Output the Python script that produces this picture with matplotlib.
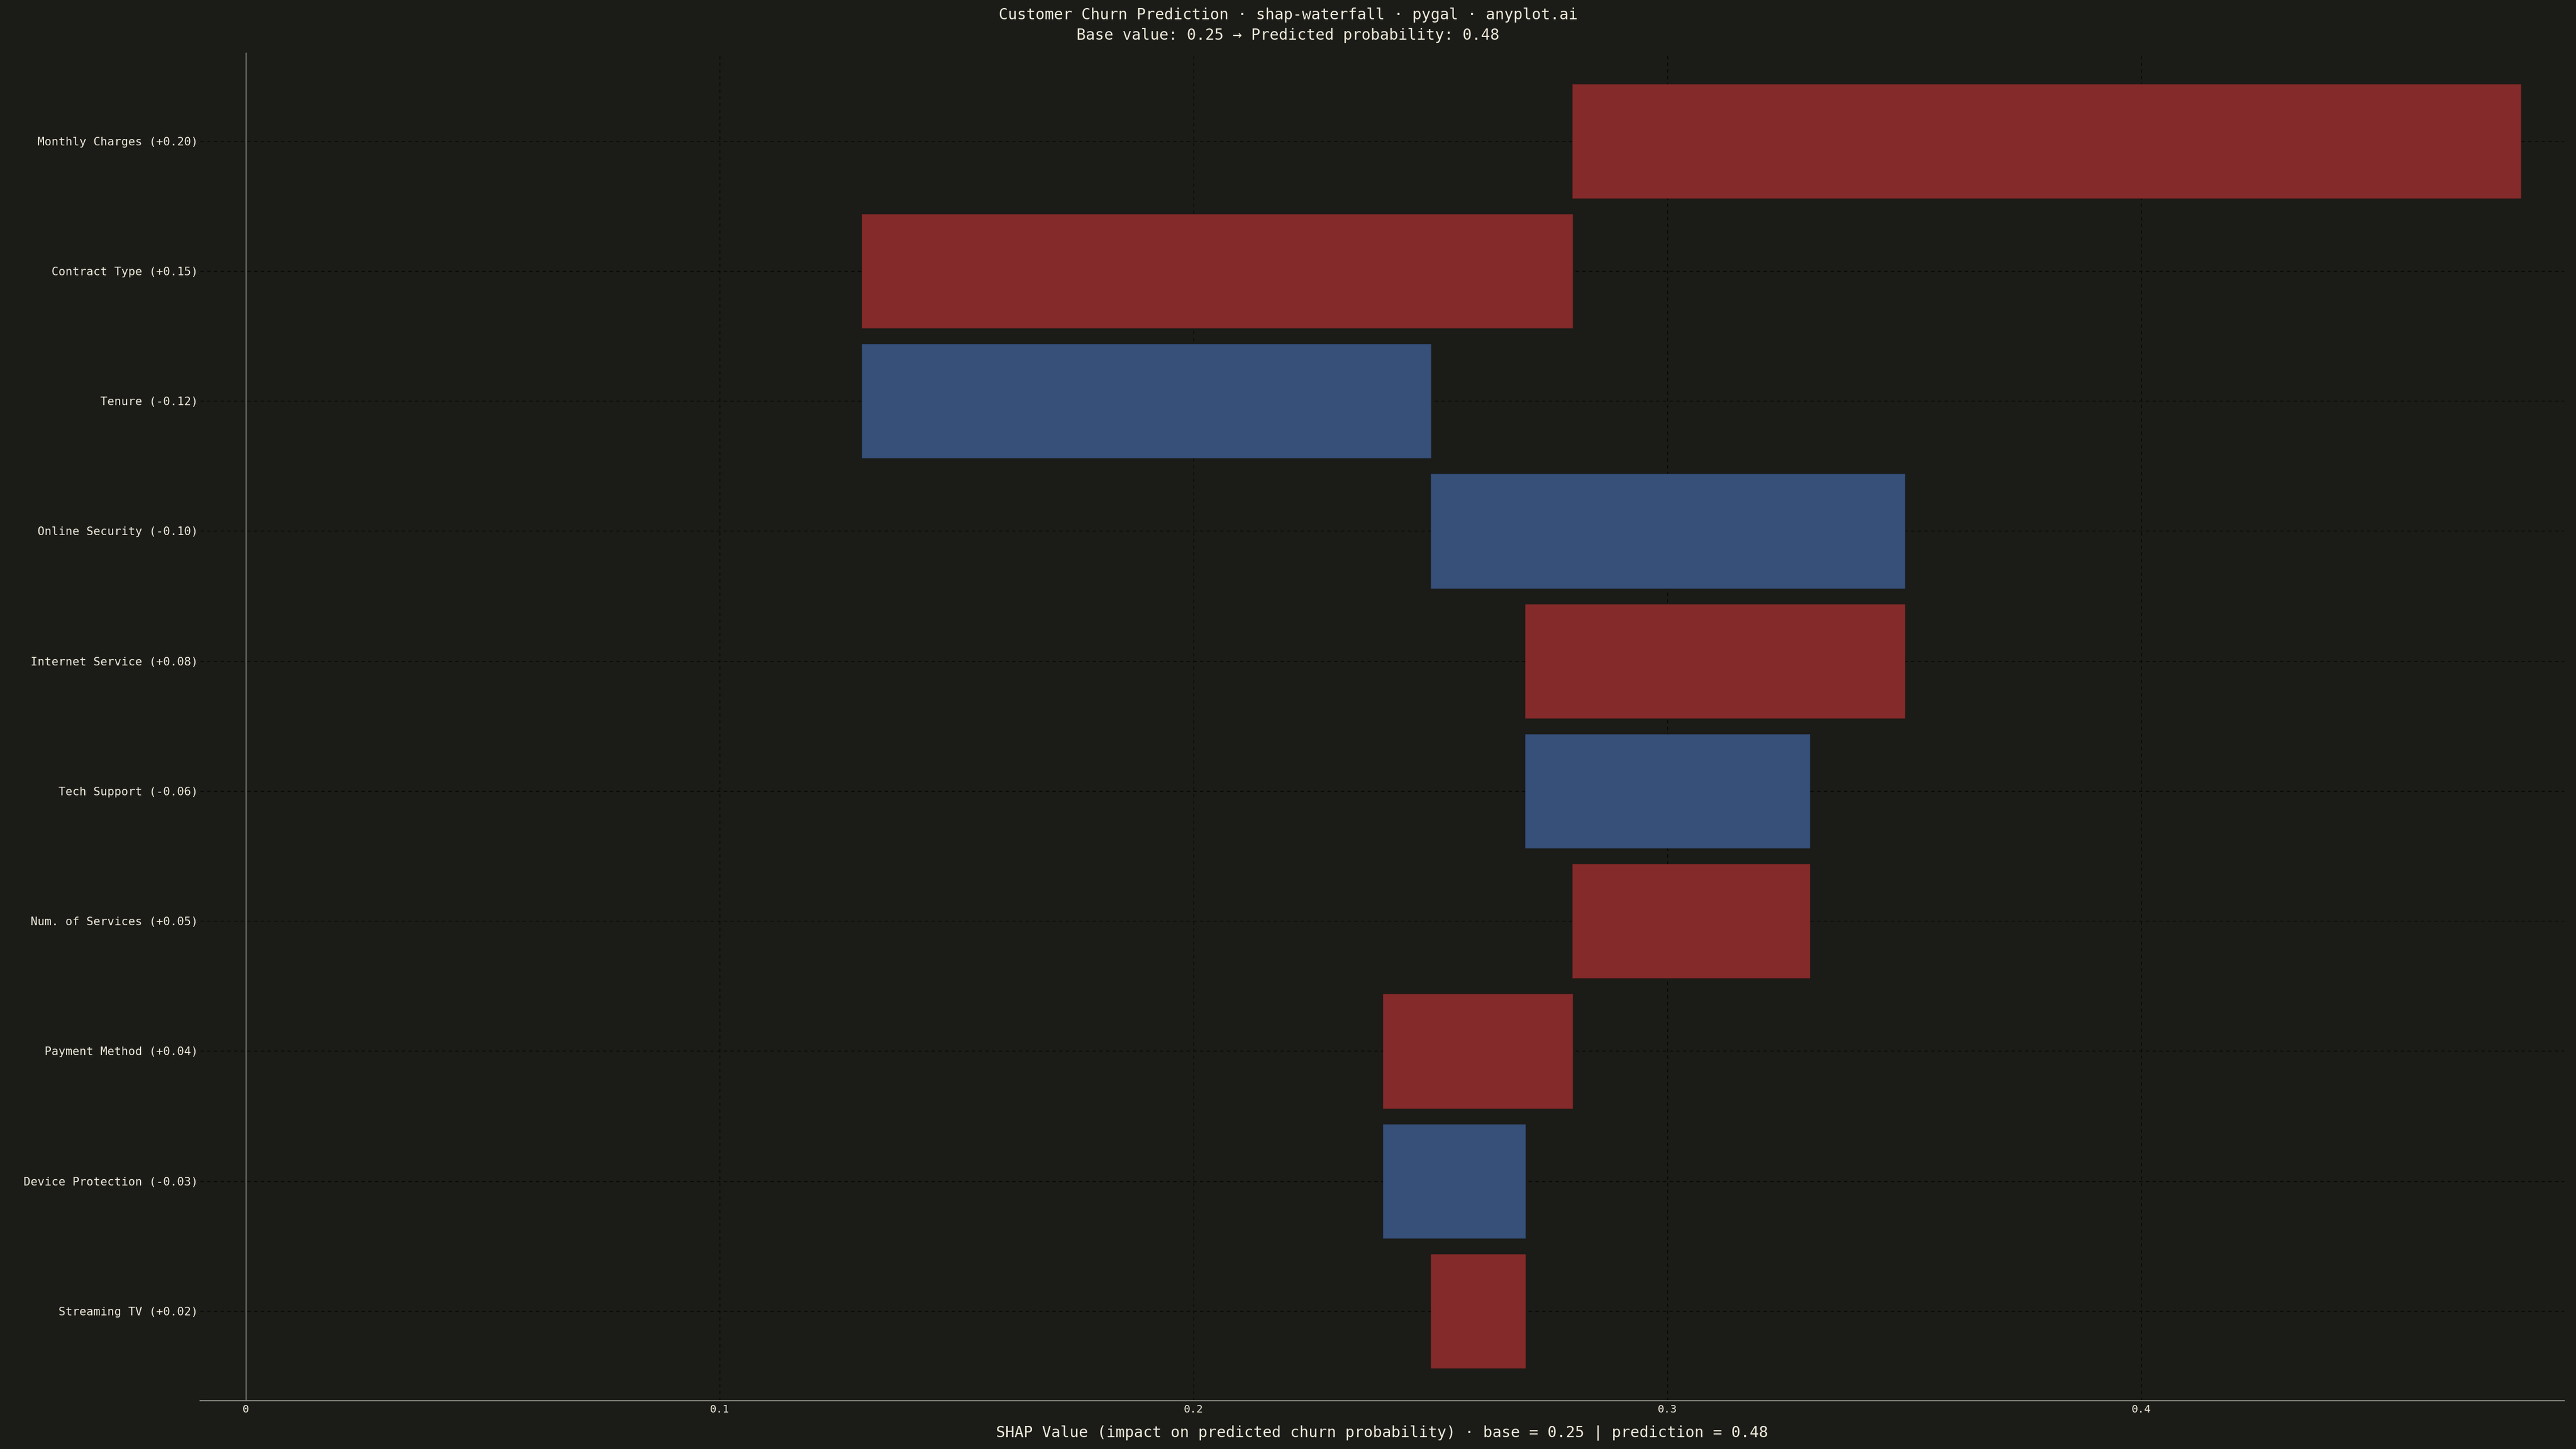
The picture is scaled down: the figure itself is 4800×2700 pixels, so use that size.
import matplotlib
matplotlib.use("Agg")
import matplotlib.pyplot as plt

# Feature contributions (top to bottom)
features = ["Monthly Charges", "Contract Type", "Tenure", "Online Security",
            "Internet Service", "Tech Support", "Num. of Services",
            "Payment Method", "Device Protection", "Streaming TV"]
shap_values = [0.20, 0.15, -0.12, -0.10, 0.08, -0.06, 0.05, 0.04, -0.03, 0.02]
bar_start = [0.28, 0.13, 0.13, 0.25, 0.27, 0.27, 0.28, 0.24, 0.24, 0.25]
bar_end = [0.48, 0.28, 0.25, 0.35, 0.35, 0.33, 0.33, 0.28, 0.27, 0.27]
x_ticks = [0, 0.1, 0.2, 0.3, 0.4]
x_tick_labels = ["0", "0.1", "0.2", "0.3", "0.4"]

base_value = 0.25
prediction = 0.48

BG = "#1b1b17"
TEXT = "#efeadb"
RED = "#852a2a"
BLUE = "#36507a"

plt.rcParams['font.family'] = ['DejaVu Sans Mono', 'DejaVu Sans']

fig = plt.figure(figsize=(48, 27), dpi=100, facecolor=BG)
ax = fig.add_axes([0.0777, 0.0333, 0.9177, 0.9304], facecolor=BG)

ypos = list(range(len(features)))
colors = [RED if v > 0 else BLUE for v in shap_values]
widths = [e - s for s, e in zip(bar_start, bar_end)]

# guides first so bars sit on top
for y in ypos:
    ax.axhline(y, color="#050505", lw=0.9, ls=(0, (5, 5)), zorder=1)
for x in x_ticks[1:]:
    ax.axvline(x, color="#050505", lw=0.9, ls=(0, (5, 5)), zorder=1)
ax.axvline(0, color="#a3a298", lw=1.0, zorder=2)

ax.barh(ypos, widths, left=bar_start, height=0.876, color=colors,
        edgecolor=["#6e2524" if c == RED else "#2c4266" for c in colors],
        linewidth=0.8, zorder=3)

ax.set_ylim(9.69, -0.68)
ax.set_xlim(-0.0096, 0.4892)

ax.set_yticks(ypos)
ax.set_yticklabels([f"{n} ({v:+.2f})" for n, v in zip(features, shap_values)],
                   fontsize=15.5, color=TEXT)
ax.set_xticks(x_ticks)
ax.set_xticklabels(x_tick_labels, fontsize=14.5, color=TEXT)
ax.tick_params(axis="y", length=0, pad=2.5)
ax.tick_params(axis="x", length=0, pad=5)

for side in ["left", "top", "right"]:
    ax.spines[side].set_visible(False)
ax.spines["bottom"].set_color("#8f8f86")
ax.spines["bottom"].set_linewidth(1.6)

fig.text(0.5, 0.9896, "Customer Churn Prediction · shap-waterfall · pygal · anyplot.ai",
         ha="center", va="center", fontsize=20.4, color=TEXT)
fig.text(0.5, 0.9756, f"Base value: {base_value:.2f} → Predicted probability: {prediction:.2f}",
         ha="center", va="center", fontsize=20.4, color=TEXT)
fig.text(0.5365, 0.0111,
         f"SHAP Value (impact on predicted churn probability) · base = {base_value:.2f} | prediction = {prediction:.2f}",
         ha="center", va="center", fontsize=20.4, color=TEXT)

fig.savefig("out.png", dpi=100, facecolor=BG)
